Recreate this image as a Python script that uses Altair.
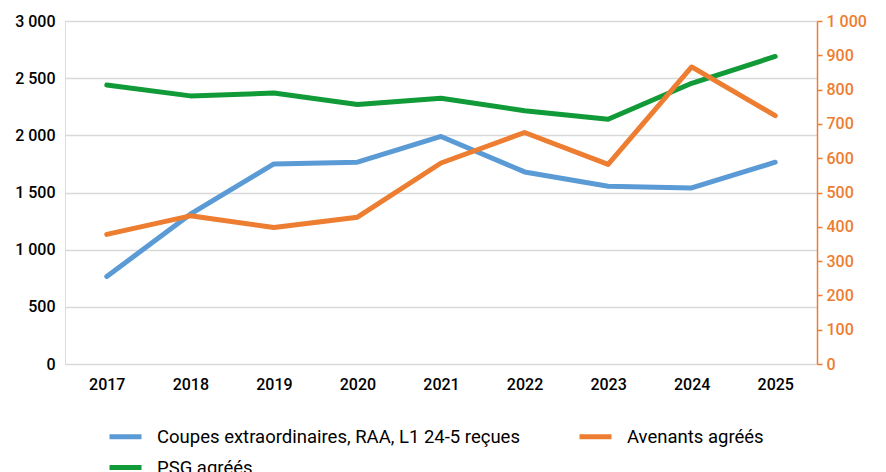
import altair as alt
import pandas as pd

years = ["2017", "2018", "2019", "2020", "2021", "2022", "2023", "2024", "2025"]
coupes = [765, 1310, 1750, 1765, 1990, 1680, 1555, 1540, 1765]
psg = [2440, 2345, 2370, 2270, 2325, 2215, 2140, 2455, 2690]
avenants = [378, 432, 398, 428, 586, 675, 582, 866, 724]

s_coupes = "Coupes extraordinaires, RAA, L1 24-5 reçues"
s_aven = "Avenants agréés"
s_psg = "PSG agréés"
series_order = [s_coupes, s_aven, s_psg]

left_df = pd.DataFrame(
    {"year": years * 2, "value": coupes + psg, "series": [s_coupes] * 9 + [s_psg] * 9}
)
right_df = pd.DataFrame({"year": years, "value": avenants, "series": [s_aven] * 9})

FONT = "Roboto"
ORANGE = "#ED7D31"
color_scale = alt.Scale(domain=series_order, range=["#5B9BD5", ORANGE, "#119A38"])

x_enc = alt.X(
    "year:N",
    sort=years,
    title=None,
    scale=alt.Scale(type="point", padding=0.5),
    axis=alt.Axis(
        labelAngle=0,
        domain=False,
        ticks=False,
        grid=False,
        labelFontSize=16,
        labelFont=FONT,
        labelFontWeight=500,
        labelColor="#000",
        labelPadding=12,
    ),
)

color_enc = alt.Color(
    "series:N",
    scale=color_scale,
    sort=series_order,
    title=None,
    legend=alt.Legend(
        orient="none",
        direction="horizontal",
        legendX=42,
        legendY=397,
        columns=2,
        columnPadding=49,
        rowPadding=2,
        values=series_order,
        symbolType="stroke",
        symbolStrokeWidth=5,
        symbolSize=1024,
        labelFontSize=18.5,
        labelFont=FONT,
        labelColor="#000",
        labelLimit=600,
        labelOffset=13,
    ),
)

left = (
    alt.Chart(left_df)
    .mark_line(strokeWidth=5, strokeCap="round", strokeJoin="round")
    .encode(
        x=x_enc,
        y=alt.Y(
            "value:Q",
            title=None,
            scale=alt.Scale(domain=[0, 3000]),
            axis=alt.Axis(
                values=[0, 500, 1000, 1500, 2000, 2500, 3000],
                labelExpr="replace(format(datum.value, ','), ',', ' ')",
                domain=False,
                ticks=False,
                gridColor="#d9d9d9",
                gridWidth=1.5,
                labelFontSize=16,
                labelFont=FONT,
                labelFontWeight=500,
                labelColor="#000",
                labelPadding=10,
            ),
        ),
        color=color_enc,
    )
)

right = (
    alt.Chart(right_df)
    .mark_line(strokeWidth=5, strokeCap="round", strokeJoin="round")
    .encode(
        x=x_enc,
        y=alt.Y(
            "value:Q",
            title=None,
            scale=alt.Scale(domain=[0, 1000]),
            axis=alt.Axis(
                orient="right",
                values=[0, 100, 200, 300, 400, 500, 600, 700, 800, 900, 1000],
                labelExpr="replace(format(datum.value, ','), ',', ' ')",
                grid=False,
                domainColor=ORANGE,
                domainWidth=1.5,
                tickColor=ORANGE,
                tickWidth=1.5,
                tickSize=5,
                labelFontSize=16,
                labelFont=FONT,
                labelFontWeight=500,
                labelColor=ORANGE,
                labelPadding=4,
            ),
        ),
        color=color_enc,
    )
)

chart = (
    alt.layer(left, right)
    .resolve_scale(y="independent")
    .properties(
        width=752,
        height=343,
        padding={"left": 6, "top": 5, "right": 5, "bottom": 0},
    )
    .configure_view(stroke=None)
    .configure(background="white")
)

chart.save("out.html", embed_options={"renderer": "svg", "actions": False})
